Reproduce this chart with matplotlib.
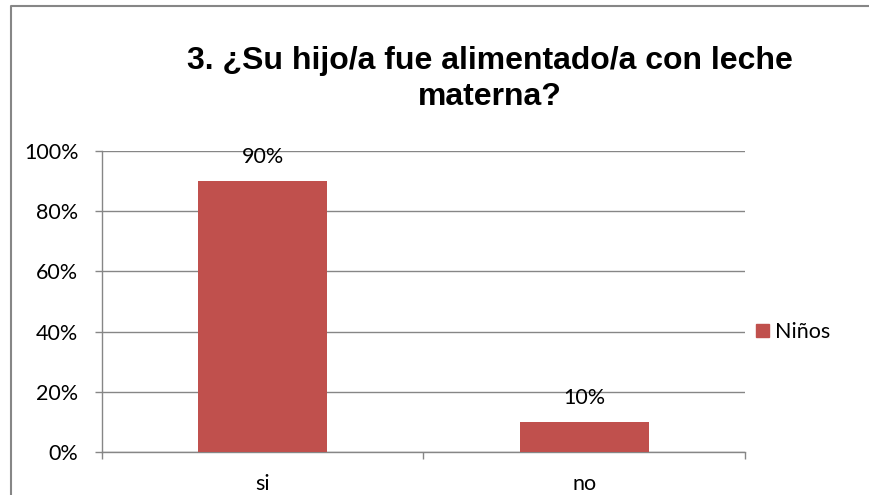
import matplotlib.pyplot as plt
from matplotlib.lines import Line2D
from matplotlib.patches import Patch
import numpy as np

# data
categories = ["si", "no"]
values = [90, 10]
labels = ["90%", "10%"]
series_name = "Niños"
yticks = [0, 20, 40, 60, 80, 100]
title = "3. ¿Su hijo/a fue alimentado/a con leche\nmaterna?"

bar_color = "#C0504D"
grid_color = "#868686"
txt_font = ["Lato", "DejaVu Sans"]
fs = 15.5

fig = plt.figure(figsize=(8.7, 4.95), dpi=100)
ax = fig.add_axes([102 / 870, 1 - 452 / 495, (745 - 102) / 870, (452 - 151) / 495])

x = np.arange(len(categories))
ax.bar(x, values, width=0.4, color=bar_color, zorder=3)
for xi, v, lab in zip(x, values, labels):
    ax.annotate(lab, (xi, v), xytext=(0, 17), textcoords="offset points",
                ha="center", va="center", fontsize=fs, family=txt_font)

ax.set_xlim(-0.5, len(categories) - 0.5)
ax.set_ylim(0, 100)
ax.set_yticks(yticks)
ax.set_yticklabels([f"{t}%" for t in yticks], family=txt_font, fontsize=fs)
ax.yaxis.grid(True, color=grid_color, linewidth=1, zorder=0)

# category labels between boundary ticks
ax.set_xticks(np.arange(len(categories) + 1) - 0.5)
ax.set_xticklabels([])
ax.set_xticks(x, minor=True)
ax.set_xticklabels(categories, minor=True, family=txt_font, fontsize=fs)
ax.tick_params(axis="x", which="minor", length=0, pad=16)
ax.tick_params(axis="x", which="major", length=5, color=grid_color, width=1)
ax.tick_params(axis="y", length=5, color=grid_color, width=1, pad=12)

for s in ["top", "right"]:
    ax.spines[s].set_visible(False)
for s in ["left", "bottom"]:
    ax.spines[s].set_color(grid_color)
    ax.spines[s].set_linewidth(1)

fig.text(490 / 870, 1 - 79 / 495, title, ha="center", va="center",
         fontsize=23, fontweight="bold", family=["Liberation Sans", "DejaVu Sans"],
         linespacing=1.22)

leg = fig.legend(handles=[Patch(color=bar_color, label=series_name)],
                 loc="center left", bbox_to_anchor=(737 / 870, 1 - 332 / 495),
                 frameon=False, prop={"family": txt_font, "size": fs},
                 handlelength=0.6, handleheight=0.6, handletextpad=0.25)

# outer chart border: only top and left edges fall inside the image
bx, by = 11.5 / 870, 1 - 5.5 / 495
fig.add_artist(Line2D([bx, bx, 1.0], [0.0, by, by], transform=fig.transFigure,
                      color=grid_color, linewidth=1.5))

fig.savefig("out.png", dpi=100)
